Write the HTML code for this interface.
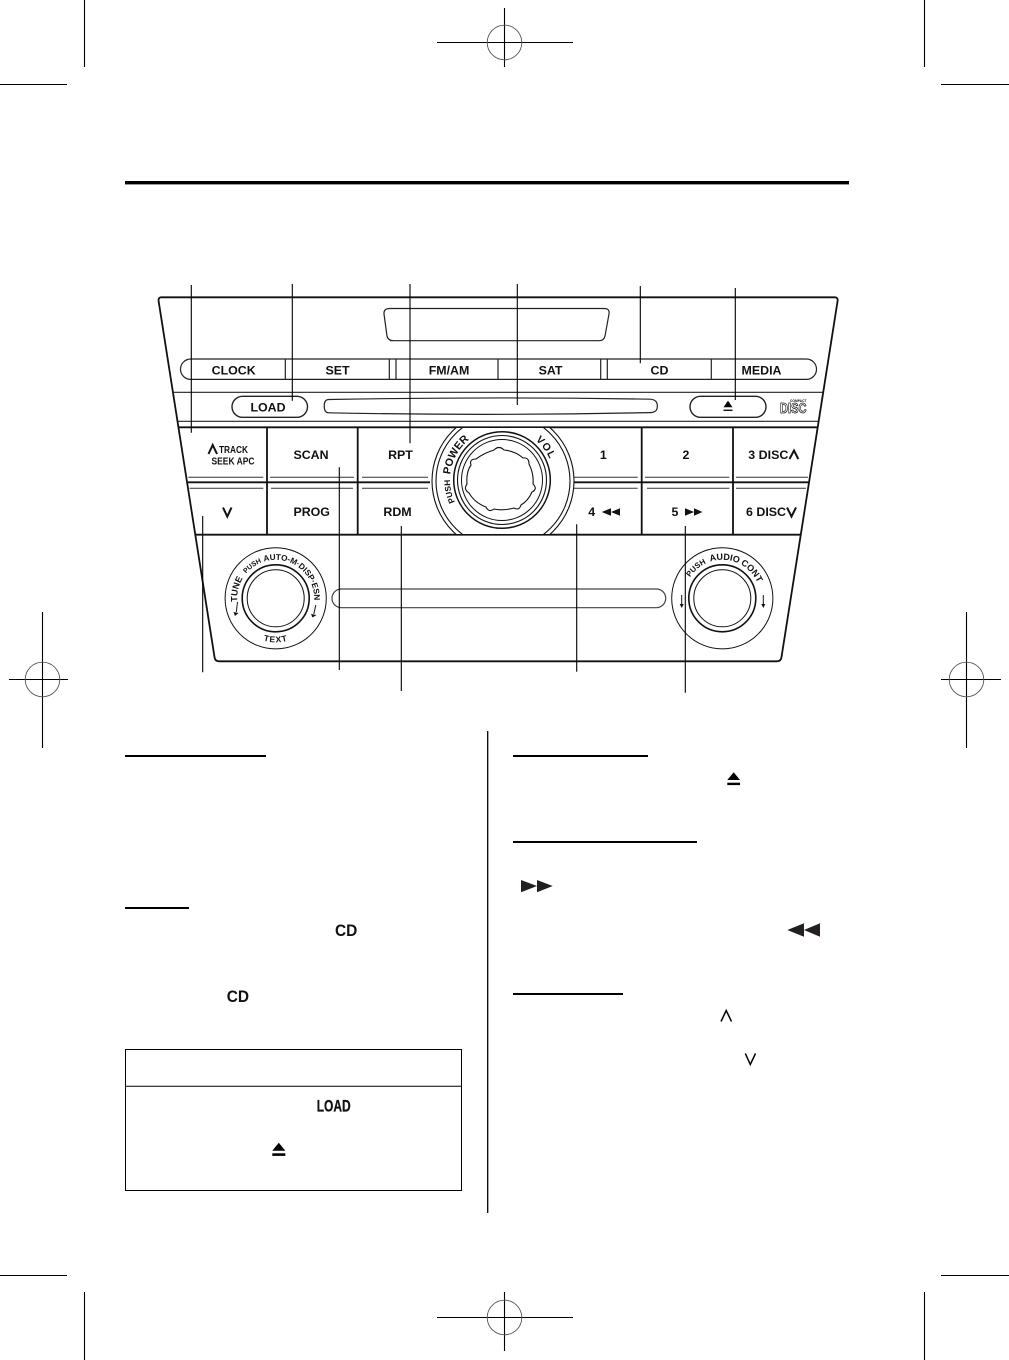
<!DOCTYPE html>
<html><head><meta charset="utf-8"><style>
html,body{margin:0;padding:0;background:#fff;width:1009px;height:1360px;overflow:hidden}
svg{display:block}
text{font-family:"Liberation Sans",sans-serif;font-weight:bold;fill:#111}
.l{font-size:12.4px;text-anchor:middle}
</style></head><body>
<svg width="1009" height="1360" viewBox="0 0 1009 1360" xmlns="http://www.w3.org/2000/svg">
<defs>
<path id="pw" d="M454.9,502 A52,52 0 0 1 472.2,437.4"/>
<path id="vl" d="M535.4,440.2 A52,52 0 0 1 550.9,462.2"/>
<path id="tn" d="M237.3,601.7 A38.5,38.5 0 1 1 314,601.7"/>
<path id="tx" d="M257.1,638.2 A44,44 0 0 0 294.3,638.2"/>
<path id="au" d="M690,577.3 A38.5,38.5 0 0 1 759.5,588.3"/>
</defs>

<!-- crop marks -->
<g stroke="#000" stroke-width="1.1" fill="none">
<path d="M84.5,0V67M0,84.5H67M924.5,0V67M941,84.5H1009"/>
<path d="M84.5,1292V1360M0,1275.5H67M924.5,1292V1360M941,1275.5H1009"/>
<path d="M504.5,8V67M437,42.5H573M504.5,1292V1351M437,1317.5H573"/>
<path d="M42.5,612V748M9,679.5H68M966.5,612V748M941,679.5H1001"/>
</g>
<g stroke="#555" stroke-width="0.9" fill="none">
<circle cx="504.5" cy="42.5" r="17.3"/><circle cx="504.5" cy="1317.5" r="17.3"/>
<circle cx="42.5" cy="679.5" r="17.3"/><circle cx="966.5" cy="679.5" r="17.3"/>
</g>
<rect x="125" y="181" width="724" height="3.4" fill="#000"/>

<!-- panel -->
<path d="M161,297.3H835Q838,297.3 837.6,301L781.5,657Q781,661.3 777,661.3H219Q215,661.3 214.5,657L158.6,301Q158.3,297.3 161,297.3Z" fill="none" stroke="#111" stroke-width="1.8"/>
<path d="M390,340.7H599Q604,340.7 605,336L609,314Q610,308.5 604,308.5H390Q383.5,308.5 384,314L387,336Q388,340.7 394,340.7Z" fill="none" stroke="#222" stroke-width="1.2"/>
<!-- top bar -->
<g fill="none" stroke="#222" stroke-width="1.2">
<rect x="180.5" y="359" width="636" height="20.4" rx="10.2"/>
<path d="M285.3,359V379.4M389.3,359V379.4M396,359V379.4M498,359V379.4M600.7,359V379.4M607.3,359V379.4M711.3,359V379.4"/>
<path d="M173.7,392.3H822.6"/>
<rect x="232" y="396.3" width="75.5" height="21" rx="10.5" stroke-width="1.4"/>
<rect x="690" y="396.3" width="76" height="21" rx="10.5" stroke-width="1.4"/>
<path d="M329,399.5Q490,396.5 650,399.2Q657.5,399.6 657.3,406Q657.5,412.5 650,412.6Q490,416 329,412.8Q324,412.8 324.3,406Q324,399.5 329,399.5Z"/>
</g>
<path d="M728,400.7L732.5,407.3H723.5Z" fill="#000"/><rect x="723.5" y="409.6" width="9" height="1.3" fill="#000"/>
<text class="l" x="233.7" y="374.5">CLOCK</text>
<text class="l" x="337.5" y="374.5">SET</text>
<text class="l" x="449" y="374.5">FM/AM</text>
<text class="l" x="550.5" y="374.5">SAT</text>
<text class="l" x="659.5" y="374.5">CD</text>
<text class="l" x="761.5" y="374.5">MEDIA</text>
<text class="l" x="268" y="411.5">LOAD</text>
<text x="790" y="402" font-size="4" textLength="16.5" lengthAdjust="spacingAndGlyphs">COMPACT</text>
<text x="780" y="413" font-size="15" textLength="26.5" lengthAdjust="spacingAndGlyphs" style="fill:#fff;stroke:#111;stroke-width:.8">DISC</text>

<!-- buttons grid -->
<path d="M178,421.3H818" stroke="#222" stroke-width="1.2"/>
<path d="M179,427.3H817" stroke="#111" stroke-width="1.8"/>
<path d="M195.5,534.7H800.5" stroke="#111" stroke-width="1.8"/>
<g stroke="#111" stroke-width="1.8"><path d="M267,427V535M357.7,427V535M641.7,427V535M733,427V535"/>
<path d="M188,482.3H430M568,482.3H809"/></g>
<g stroke="#333" stroke-width="1"><path d="M188.3,477.3H263.3M270,477.3H354M362,477.3H428M572.7,477.3H637.7M645,477.3H729.3M736,477.3H808"/>
<path d="M189.5,488.3H263.3M271,488.3H353M362,488.3H428M572,488.3H637.7M647,488.3H729.3M736,488.3H806"/></g>

<!-- main dial -->
<clipPath id="gc"><rect x="400" y="428" width="200" height="106"/></clipPath>
<g fill="#fff" stroke="#111" clip-path="url(#gc)"><circle cx="503" cy="481" r="71" stroke-width="1.1"/><circle cx="503" cy="481" r="67" stroke-width="1.1"/></g>
<g fill="none" stroke="#111"><circle cx="502" cy="480" r="48.3" stroke-width="1.5"/><circle cx="502" cy="480" r="44.5" stroke-width="1.1"/><circle cx="502" cy="480" r="40.5" stroke-width="1"/>
<path stroke-width="1.1" d="M494,450Q499,445 504,450Q515,451 523,458Q529,457 529,464Q534,474 533,484Q538,489 532,492Q528,501 521,505Q519,511 514,508Q503,511 494,509Q489,513 486,507Q475,503 469,493Q463,489 467,484Q466,472 471,465Q469,459 476,459Q484,453 494,450Z"/></g>
<text><textPath href="#pw"><tspan font-size="8.3">PUSH</tspan><tspan font-size="10.8" dx="5">POWER</tspan></textPath></text>
<text font-size="10.5" letter-spacing="1"><textPath href="#vl">VOL</textPath></text>

<!-- button labels -->
<path d="M208.5,454L212.7,445L217,454" fill="none" stroke="#111" stroke-width="2"/>
<text x="219" y="453" font-size="10" textLength="29" lengthAdjust="spacingAndGlyphs">TRACK</text>
<text x="211.5" y="464.5" font-size="10" textLength="43" lengthAdjust="spacingAndGlyphs">SEEK APC</text>
<text class="l" x="311" y="459">SCAN</text>
<text class="l" x="400.5" y="459">RPT</text>
<text class="l" x="603.3" y="459">1</text>
<text class="l" x="686" y="459">2</text>
<text x="748.3" y="459" font-size="12.4" textLength="40">3 DISC</text>
<path d="M789.5,459L794,450.5L798.3,459" fill="none" stroke="#111" stroke-width="2"/>
<path d="M223,507.5L227.3,516.5L231.5,507.5" fill="none" stroke="#111" stroke-width="2"/>
<text class="l" x="311.7" y="516">PROG</text>
<text class="l" x="397.5" y="516">RDM</text>
<text class="l" x="591.7" y="516">4</text>
<path d="M601.7,512L611,508.3V515.7ZM611,512L620,508.3V515.7Z" fill="#111"/>
<text class="l" x="675" y="516">5</text>
<path d="M685,508.3L694,512L685,515.7ZM694,508.3L702.5,512L694,515.7Z" fill="#111"/>
<text x="746" y="516" font-size="12.4" textLength="40">6 DISC</text>
<path d="M787,507.5L791.5,516.5L796,507.5" fill="none" stroke="#111" stroke-width="2"/>

<!-- lower area -->
<rect x="332" y="589" width="333.7" height="18.7" rx="9.3" fill="none" stroke="#444" stroke-width="1.2"/>
<g fill="none" stroke="#111">
<circle cx="275.7" cy="598.3" r="50.6" stroke-width="1"/><circle cx="275.7" cy="598.3" r="33.5" stroke-width="1.6"/><circle cx="275.7" cy="598.3" r="28.5" stroke-width="1"/>
<circle cx="722.3" cy="598.3" r="50.6" stroke-width="1"/><circle cx="722.3" cy="598.3" r="33.5" stroke-width="1.6"/><circle cx="722.3" cy="598.3" r="28.5" stroke-width="1"/>
</g>
<text><textPath href="#tn"><tspan font-size="9">TUNE</tspan></textPath></text>
<text><textPath href="#tn" startOffset="30"><tspan font-size="7">PUSH</tspan></textPath></text>
<text font-size="8.2"><textPath href="#tn" startOffset="52">AUTO-M·DISP·ESN</textPath></text>
<text font-size="8.5" letter-spacing="0.8" text-anchor="middle"><textPath href="#tx" startOffset="50%">TEXT</textPath></text>
<text font-size="7.8"><textPath href="#au">PUSH</textPath></text>
<text font-size="9"><textPath href="#au" startOffset="26">AUDIO</textPath></text>
<text font-size="9"><textPath href="#au" startOffset="57">CONT</textPath></text>
<g fill="#111" stroke="#111" stroke-width="1">
<path d="M237.5,602L236.3,612" fill="none"/><path d="M233.5,612L238.5,613L235,616Z" stroke="none"/>
<path d="M315.8,605L313.8,614" fill="none"/><path d="M311,614L316.5,615L312.5,617.5Z" stroke="none"/>
<path d="M681.7,595V604" fill="none"/><path d="M679.7,604H683.7L681.7,608Z" stroke="none"/>
<path d="M763.3,595V604" fill="none"/><path d="M761.3,604H765.3L763.3,608Z" stroke="none"/>
</g>

<!-- leaders -->
<g stroke="#000" stroke-width="1.1">
<path d="M191.3,285V432.7M292.3,284V400.7M410,284V443.3M517.3,284V405M640.3,286V363.3M735.3,288V400"/>
<path d="M202.7,516V672.3M339.3,467.3V670M401.3,526V691M576.7,524.3V671.7M685.3,526V692.7"/>
</g>

<!-- text page -->
<path d="M487.7,731V1213" stroke="#000" stroke-width="1.3"/>
<g fill="#000">
<rect x="125" y="755" width="141" height="2"/>
<rect x="125" y="907" width="64" height="2"/>
<rect x="513" y="755" width="135" height="2"/>
<rect x="513" y="841" width="184" height="2"/>
<rect x="513" y="993" width="110" height="2"/>
</g>
<text x="335" y="936" font-size="17" textLength="22.3" lengthAdjust="spacingAndGlyphs">CD</text>
<text x="226.7" y="1002" font-size="17" textLength="22.3" lengthAdjust="spacingAndGlyphs">CD</text>
<rect x="125.5" y="1049.5" width="336" height="141" fill="none" stroke="#000" stroke-width="1"/>
<path d="M125.5,1086.3H461.5" stroke="#000" stroke-width="1"/>
<text x="316.7" y="1111.7" font-size="17" textLength="34" lengthAdjust="spacingAndGlyphs" style="stroke:#111;stroke-width:.3">LOAD</text>
<g fill="#000">
<path d="M278.8,1142.7L285.3,1150.7H272.3Z"/><rect x="272.3" y="1153.3" width="13" height="2.6"/>
<path d="M733.7,772.3L740,780H727.3Z"/><rect x="727.3" y="782.7" width="12.7" height="2.4"/>
</g>
<path d="M521,880L537,886L521,892.3ZM537,880L552.7,886L537,892.3Z" fill="#231f20"/>
<path d="M787.3,930L804,923.3V936.7ZM804,930L820,923.3V936.7Z" fill="#231f20"/>
<path d="M721,1021.5L726.2,1010.5L731.5,1021.5" fill="none" stroke="#000" stroke-width="1.5"/>
<path d="M745.3,1053.5L750.3,1064.5L755.5,1053.5" fill="none" stroke="#000" stroke-width="1.5"/>
</svg>
</body></html>
